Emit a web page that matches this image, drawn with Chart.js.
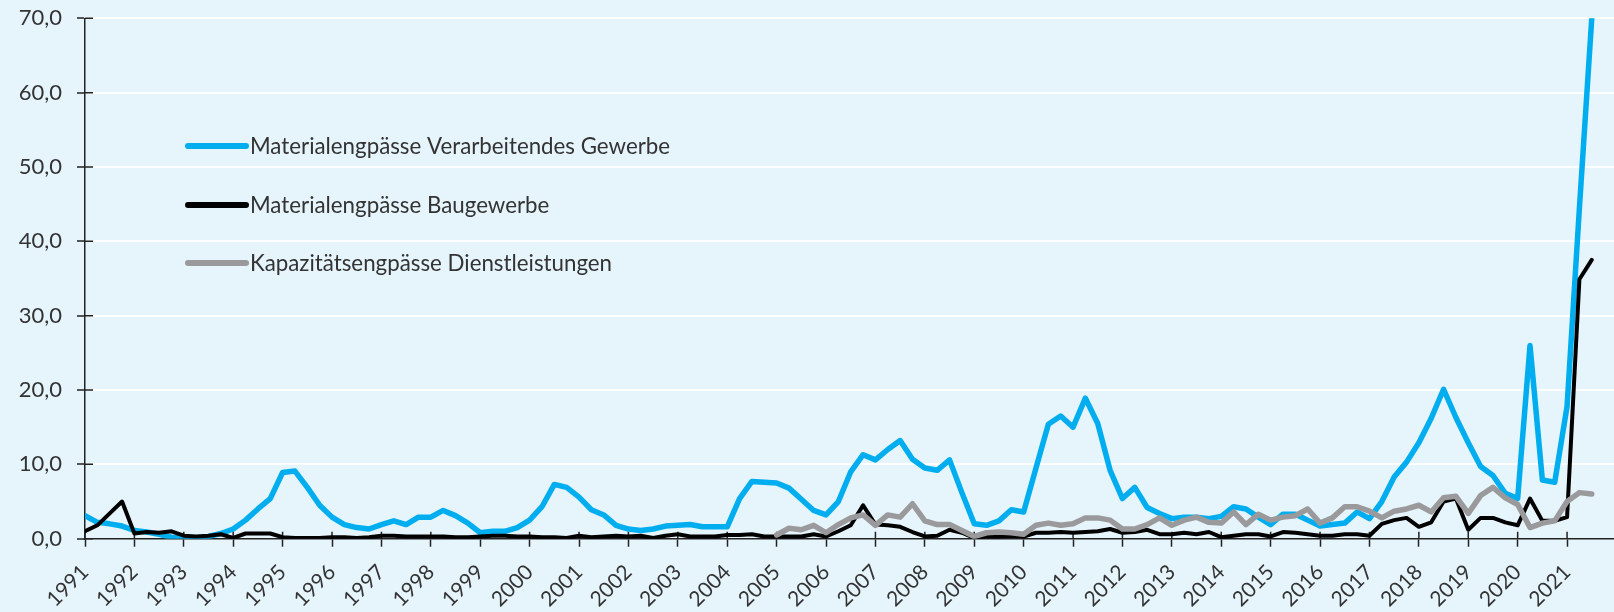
<!DOCTYPE html>
<html>
<head>
<meta charset="utf-8">
<title>Engpässe</title>
<script src="https://cdn.jsdelivr.net/npm/chart.js@4.4.0/dist/chart.umd.min.js"></script>
<style>
  html, body { margin: 0; padding: 0; background: #e6f4fc; }
  #wrap { width: 1614px; height: 612px; position: relative; }
</style>
</head>
<body>
<div id="wrap"><canvas id="myChart"></canvas></div>
<script>
// quarterly values, first quarter of each start year
var firstYear = 1991;
var dienstStart = 2005;
var seriesNames = ["Materialengpässe Verarbeitendes Gewerbe", "Materialengpässe Baugewerbe", "Kapazitätsengpässe Dienstleistungen"];
var seriesColors = ["#00aeef", "#000000", "#9a9a9c"];

var verarbeitendes = [
  3.1, 2.2, 2.0, 1.7,   1.1, 0.9, 0.6, 0.2,   0.1, 0.1, 0.3, 0.7,   1.3, 2.5, 4.0, 5.4,
  8.9, 9.1, 6.9, 4.5,   2.9, 1.9, 1.5, 1.3,   1.9, 2.4, 1.9, 2.9,   2.9, 3.8, 3.1, 2.1,
  0.8, 1.0, 1.0, 1.5,   2.5, 4.3, 7.3, 6.9,   5.6, 3.9, 3.2, 1.8,   1.3, 1.1, 1.3, 1.7,
  1.8, 1.9, 1.6, 1.6,   1.6, 5.4, 7.7, 7.6,   7.5, 6.8, 5.3, 3.8,   3.2, 5.0, 9.0, 11.3,
  10.6, 12.0, 13.2, 10.7, 9.5, 9.2, 10.6, 6.2, 2.0, 1.8, 2.4, 3.9,  3.6, 9.5, 15.4, 16.5,
  15.0, 18.9, 15.5, 9.2, 5.4, 6.9, 4.2, 3.4,  2.7, 2.9, 2.9, 2.7,   3.0, 4.3, 4.0, 2.9,
  1.9, 3.3, 3.3, 2.5,   1.7, 1.9, 2.1, 3.6,   2.7, 5.0, 8.3, 10.3,  12.9, 16.2, 20.1, 16.3,
  12.9, 9.7, 8.5, 6.1,  5.4, 26.0, 7.9, 7.6,  17.8, 44.5, 70.0
];
var baugewerbe = [
  1.0, 1.8, 3.4, 5.0,   0.7, 0.9, 0.8, 1.0,   0.4, 0.3, 0.4, 0.6,   0.1, 0.7, 0.7, 0.7,
  0.2, 0.1, 0.1, 0.1,   0.2, 0.2, 0.1, 0.2,   0.4, 0.4, 0.3, 0.3,   0.3, 0.3, 0.2, 0.2,
  0.3, 0.4, 0.4, 0.3,   0.3, 0.2, 0.2, 0.1,   0.4, 0.2, 0.3, 0.4,   0.3, 0.4, 0.1, 0.4,
  0.6, 0.3, 0.3, 0.3,   0.5, 0.5, 0.6, 0.3,   0.3, 0.3, 0.3, 0.6,   0.3, 1.0, 1.8, 4.5,
  1.9, 1.8, 1.6, 0.9,   0.3, 0.4, 1.2, 0.8,   0.1, 0.3, 0.3, 0.4,   0.3, 0.8, 0.8, 0.9,
  0.8, 0.9, 1.0, 1.3,   0.8, 0.9, 1.2, 0.6,   0.6, 0.8, 0.6, 0.9,   0.2, 0.4, 0.6, 0.6,
  0.3, 0.9, 0.8, 0.6,   0.4, 0.4, 0.6, 0.6,   0.4, 2.0, 2.5, 2.8,   1.6, 2.2, 5.0, 5.4,
  1.2, 2.8, 2.8, 2.2,   1.8, 5.4, 2.4, 2.4,   2.9, 34.9, 37.5
];
var dienstleistungen = [
  0.5, 1.4, 1.2, 1.8,   0.8, 1.9, 2.8, 3.2,   1.8, 3.2, 2.9, 4.7,   2.4, 1.9, 1.9, 1.1,
  0.3, 0.8, 0.9, 0.8,   0.6, 1.8, 2.1, 1.8,   2.0, 2.8, 2.8, 2.5,   1.3, 1.3, 1.9, 2.8,
  1.8, 2.5, 2.9, 2.2,   2.1, 3.6, 1.9, 3.3,   2.5, 2.9, 3.1, 4.0,   2.1, 2.8, 4.3, 4.3,
  3.7, 2.8, 3.7, 4.0,   4.5, 3.6, 5.5, 5.7,   3.4, 5.8, 6.9, 5.5,   4.6, 1.5, 2.1, 2.4,
  5.0, 6.2, 6.0
];

var axisColor = "#222222";
var textColor = "#333333";

function toPoints(start, vals) {
  return vals.map(function (v, i) { return { x: start + i / 4, y: v }; });
}

// tick marks that cross the axis lines
var crossTicks = {
  id: "crossTicks",
  beforeDatasetsDraw: function (chart) {
    var ctx = chart.ctx, xs = chart.scales.x, ys = chart.scales.y, a = chart.chartArea;
    ctx.save();
    ctx.strokeStyle = axisColor;
    ctx.lineWidth = 1.5;
    ctx.beginPath();
    xs.ticks.forEach(function (t) {
      var px = xs.getPixelForValue(t.value);
      ctx.moveTo(px, a.bottom);
      ctx.lineTo(px, a.bottom - 7);
    });
    ys.ticks.forEach(function (t) {
      var py = ys.getPixelForValue(t.value);
      ctx.moveTo(a.left, py);
      ctx.lineTo(a.left + 8, py);
    });
    ctx.stroke();
    ctx.restore();
  }
};

// legend inside the plot area
var innerLegend = {
  id: "innerLegend",
  afterDraw: function (chart) {
    var ctx = chart.ctx;
    var rows = [146, 205, 263];
    ctx.save();
    ctx.font = "22.3px Lato, sans-serif";
    ctx.textBaseline = "middle";
    ctx.textAlign = "left";
    chart.data.datasets.forEach(function (ds, i) {
      ctx.strokeStyle = ds.borderColor;
      ctx.lineWidth = 6;
      ctx.lineCap = "round";
      ctx.beginPath();
      ctx.moveTo(188, rows[i]);
      ctx.lineTo(246, rows[i]);
      ctx.stroke();
      ctx.fillStyle = textColor;
      ctx.fillText(ds.label, 250, rows[i] + 1);
    });
    ctx.restore();
  }
};

Chart.defaults.font.family = "Lato, sans-serif";
Chart.defaults.font.size = 20;
Chart.defaults.color = textColor;

var ctx1 = document.getElementById("myChart").getContext("2d");
var myChart = new Chart(ctx1, {
  type: "line",
  data: {
    datasets: [
      { label: seriesNames[0], data: toPoints(firstYear, verarbeitendes), borderColor: seriesColors[0], borderWidth: 5.5, order: 3 },
      { label: seriesNames[1], data: toPoints(firstYear, baugewerbe), borderColor: seriesColors[1], borderWidth: 4, order: 2 },
      { label: seriesNames[2], data: toPoints(dienstStart, dienstleistungen), borderColor: seriesColors[2], borderWidth: 5.5, order: 1 }
    ]
  },
  options: {
    responsive: true,
    maintainAspectRatio: false,
    animation: false,
    layout: { padding: { top: 18.3, right: 0, left: 0, bottom: 0 } },
    elements: {
      point: { radius: 0 },
      line: { tension: 0, borderJoinStyle: "round", borderCapStyle: "round", fill: false }
    },
    plugins: { legend: { display: false }, tooltip: { enabled: false } },
    scales: {
      x: {
        type: "linear",
        min: firstYear,
        max: 2021.95,
        afterFit: function (s) { s.height = 73.3; s.paddingLeft = 0; s.paddingRight = 0; },
        afterBuildTicks: function (s) {
          s.ticks = s.ticks.filter(function (t) { return Number.isInteger(t.value); });
        },
        border: { color: axisColor, width: 1.5 },
        grid: { drawOnChartArea: false, drawTicks: true, tickLength: 8, tickColor: axisColor, tickWidth: 1.5 },
        ticks: {
          stepSize: 1,
          autoSkip: false,
          minRotation: 45,
          maxRotation: 45,
          padding: 13,
          color: textColor,
          font: { size: 21 },
          callback: function (v) { return String(v); }
        }
      },
      y: {
        min: 0,
        max: 70,
        afterFit: function (s) { s.width = 85; s.paddingTop = 0; s.paddingBottom = 0; },
        border: { color: axisColor, width: 1.5 },
        grid: {
          color: function (c) { return c.tick && c.tick.value === 0 ? "rgba(0,0,0,0)" : "#ffffff"; },
          lineWidth: 2,
          tickLength: 8,
          tickColor: axisColor,
          tickWidth: 1.5
        },
        ticks: {
          stepSize: 10,
          padding: 15,
          color: textColor,
          font: { size: 22 },
          callback: function (v) { return v.toFixed(1).replace(".", ","); }
        }
      }
    }
  },
  plugins: [crossTicks, innerLegend]
});
</script>
</body>
</html>
